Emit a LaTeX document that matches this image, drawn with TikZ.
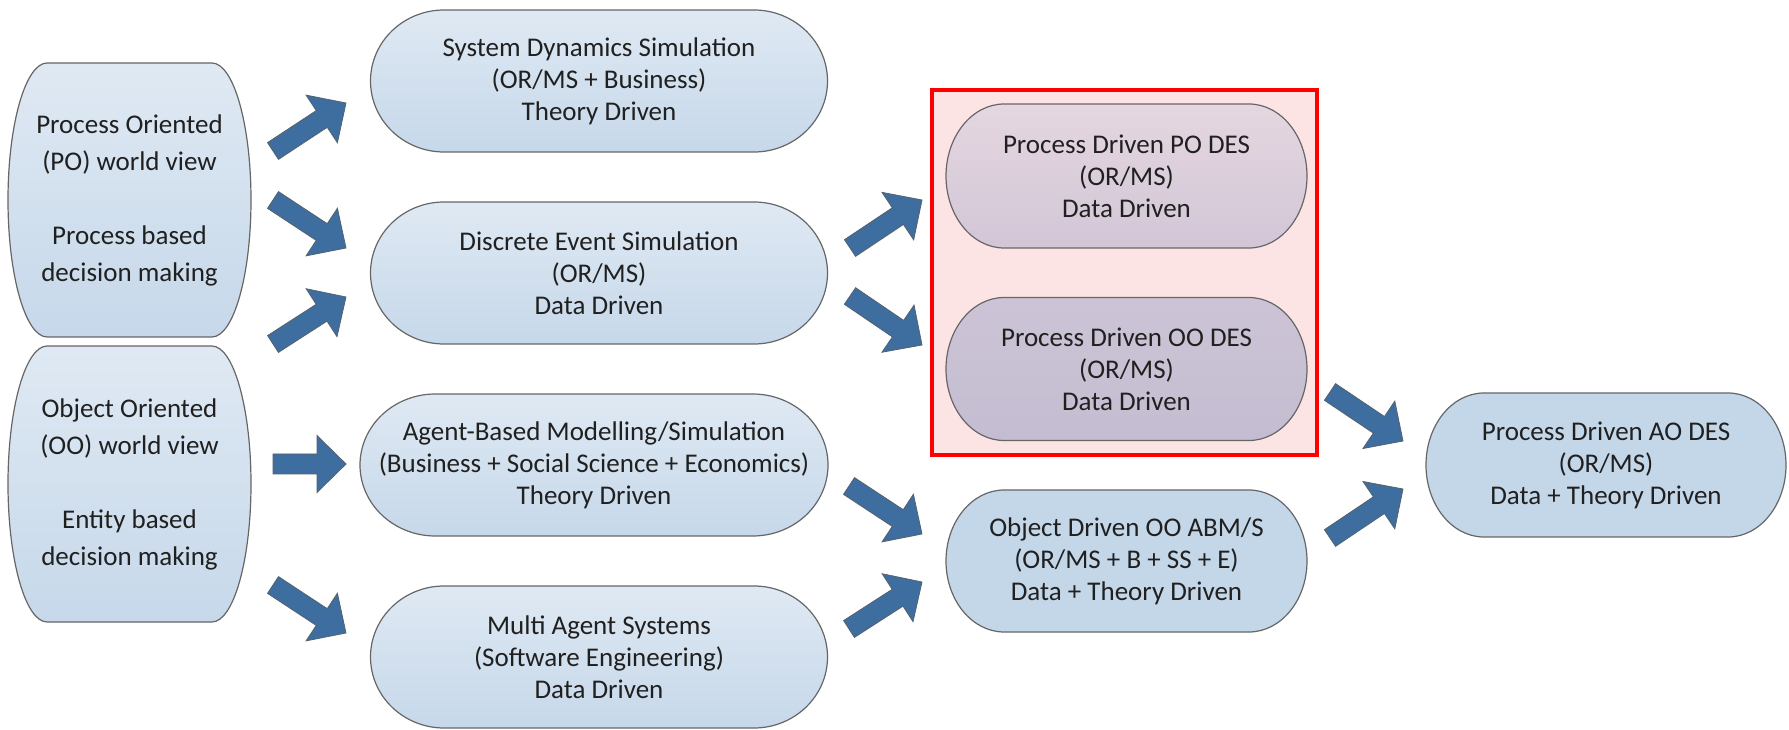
\documentclass[tikz,border=0pt]{standalone}
\usepackage{fontspec}
\setmainfont{Carlito}
\usetikzlibrary{calc}
\definecolor{bluetop}{HTML}{DFE9F3}
\definecolor{bluebot}{HTML}{C6D8EA}
\definecolor{blueflat}{HTML}{C4D7E9}
\definecolor{pinktop}{HTML}{E5D7E0}
\definecolor{pinkbot}{HTML}{D2C6D7}
\definecolor{lavtop}{HTML}{CCC4D6}
\definecolor{lavbot}{HTML}{C4BCD0}
\definecolor{grpfill}{HTML}{FDE4E4}
\definecolor{grpline}{HTML}{FF0000}
\definecolor{arrowfill}{HTML}{3D6E9F}
\definecolor{arrowline}{HTML}{56616E}
\definecolor{boxline}{HTML}{666666}
\definecolor{txt}{HTML}{202020}
\tikzset{
  boxpath/.style={draw=boxline, line width=1.2pt},
  bluegrad/.style={top color=bluetop, bottom color=bluebot},
  pinkgrad/.style={top color=pinktop, bottom color=pinkbot},
  lavgrad/.style={top color=lavtop, bottom color=lavbot},
  blueplain/.style={fill=blueflat},
  boxtext/.style={align=center, text=txt, inner sep=0pt, font=\fontsize{27}{32}\selectfont},
  tallbox/.style={font=\fontsize{27}{37}\selectfont},
  grpbox/.style={draw=grpline, fill=grpfill, line width=4pt, inner sep=0pt},
  arrowshape/.style={fill=arrowfill, draw=arrowline, line width=0.8pt, line join=miter}
}
% #1 name, #2 cx, #3 cy (measured from top), #4 w, #5 h, #6 path style, #7 text style, #8 text
\newcommand\termbox[8]{%
  \pgfmathsetmacro\tbrx{0.161*#4}%
  \pgfmathsetmacro\tbry{#5/2}%
  \pgfmathsetmacro\tbY{729-#3}%
  \pgfmathsetmacro\tbL{#2-#4/2+\tbrx}%
  \pgfmathsetmacro\tbR{#2+#4/2-\tbrx}%
  \path[boxpath,#6] (\tbL,\tbY-\tbry) -- (\tbR,\tbY-\tbry)
     arc[start angle=-90,end angle=90,x radius=\tbrx,y radius=\tbry]
     -- (\tbL,\tbY+\tbry)
     arc[start angle=90,end angle=270,x radius=\tbrx,y radius=\tbry] -- cycle;
  \node[boxtext,#7,minimum width=#4,minimum height=#5] (#1) at (#2,\tbY) {#8};
}
% block arrow from named tail to named tip
\newcommand\barrow[2]{%
  \path[arrowshape] let \p1=($(#2)-(#1)$), \n1={atan2(\y1,\x1)}, \n2={veclen(\x1,\y1)} in
    [shift={(#1)}, rotate=\n1]
    (0,-10) -- (\n2-29,-10) -- (\n2-29,-28.5) -- (\n2,0) -- (\n2-29,28.5) -- (\n2-29,10) -- (0,10) -- cycle;
}
\begin{document}
\begin{tikzpicture}[x=1pt,y=1pt]
\useasboundingbox (0,0) rectangle (1789,729);
\fill[white] (0,0) rectangle (1789,729);

% group
\node[grpbox, minimum width=385, minimum height=365] (grp) at (1124.5,456.5) {};

% left column
\termbox{po}{129.5}{200}{243}{274}{bluegrad}{tallbox}{Process Oriented\\(PO) world view\\[37pt]Process based\\decision making}
\termbox{oo}{129.5}{484}{243}{276}{bluegrad}{tallbox}{Object Oriented\\(OO) world view\\[37pt]Entity based\\decision making}

% middle column
\termbox{sd}{599}{81}{457}{142}{bluegrad}{}{System Dynamics Simulation\\(OR/MS + Business)\\Theory Driven}
\termbox{des}{599}{273}{457}{142}{bluegrad}{}{Discrete Event Simulation\\(OR/MS)\\Data Driven}
\termbox{abm}{594}{465}{468}{142}{bluegrad}{}{Agent-Based Modelling/Simulation\\(Business + Social Science + Economics)\\Theory Driven}
\termbox{mas}{599}{657}{457}{142}{bluegrad}{}{Multi Agent Systems\\(Software Engineering)\\Data Driven}

% right column
\termbox{podes}{1126.5}{176}{361}{144}{pinkgrad}{}{Process Driven PO DES\\(OR/MS)\\Data Driven}
\termbox{oodes}{1126.5}{369}{361}{143}{lavgrad}{}{Process Driven OO DES\\(OR/MS)\\Data Driven}
\termbox{ooabm}{1126.5}{561}{361}{142}{blueplain}{}{Object Driven OO ABM/S\\(OR/MS + B + SS + E)\\Data + Theory Driven}
\termbox{aodes}{1606}{465}{360}{144}{blueplain}{}{Process Driven AO DES\\(OR/MS)\\Data + Theory Driven}

% arrow end points
\coordinate (a1t) at (273,578);  \coordinate (a1h) at (346,626);
\coordinate (a2t) at (273,529);  \coordinate (a2h) at (346,481);
\coordinate (a3t) at (273,385);  \coordinate (a3h) at (346,432);
\coordinate (a4t) at (273,265);  \coordinate (a4h) at (346,265);
\coordinate (a5t) at (273,144);  \coordinate (a5h) at (346,96);
\coordinate (a6t) at (850,481);  \coordinate (a6h) at (922,529);
\coordinate (a7t) at (850,433);  \coordinate (a7h) at (922,384);
\coordinate (a8t) at (849,243);  \coordinate (a8h) at (922,195);
\coordinate (a9t) at (849,100);  \coordinate (a9h) at (922,147);
\coordinate (a10t) at (1330,337); \coordinate (a10h) at (1403,288);
\coordinate (a11t) at (1330,191); \coordinate (a11h) at (1403,240);

\barrow{a1t}{a1h}
\barrow{a2t}{a2h}
\barrow{a3t}{a3h}
\barrow{a4t}{a4h}
\barrow{a5t}{a5h}
\barrow{a6t}{a6h}
\barrow{a7t}{a7h}
\barrow{a8t}{a8h}
\barrow{a9t}{a9h}
\barrow{a10t}{a10h}
\barrow{a11t}{a11h}
\end{tikzpicture}
\end{document}
